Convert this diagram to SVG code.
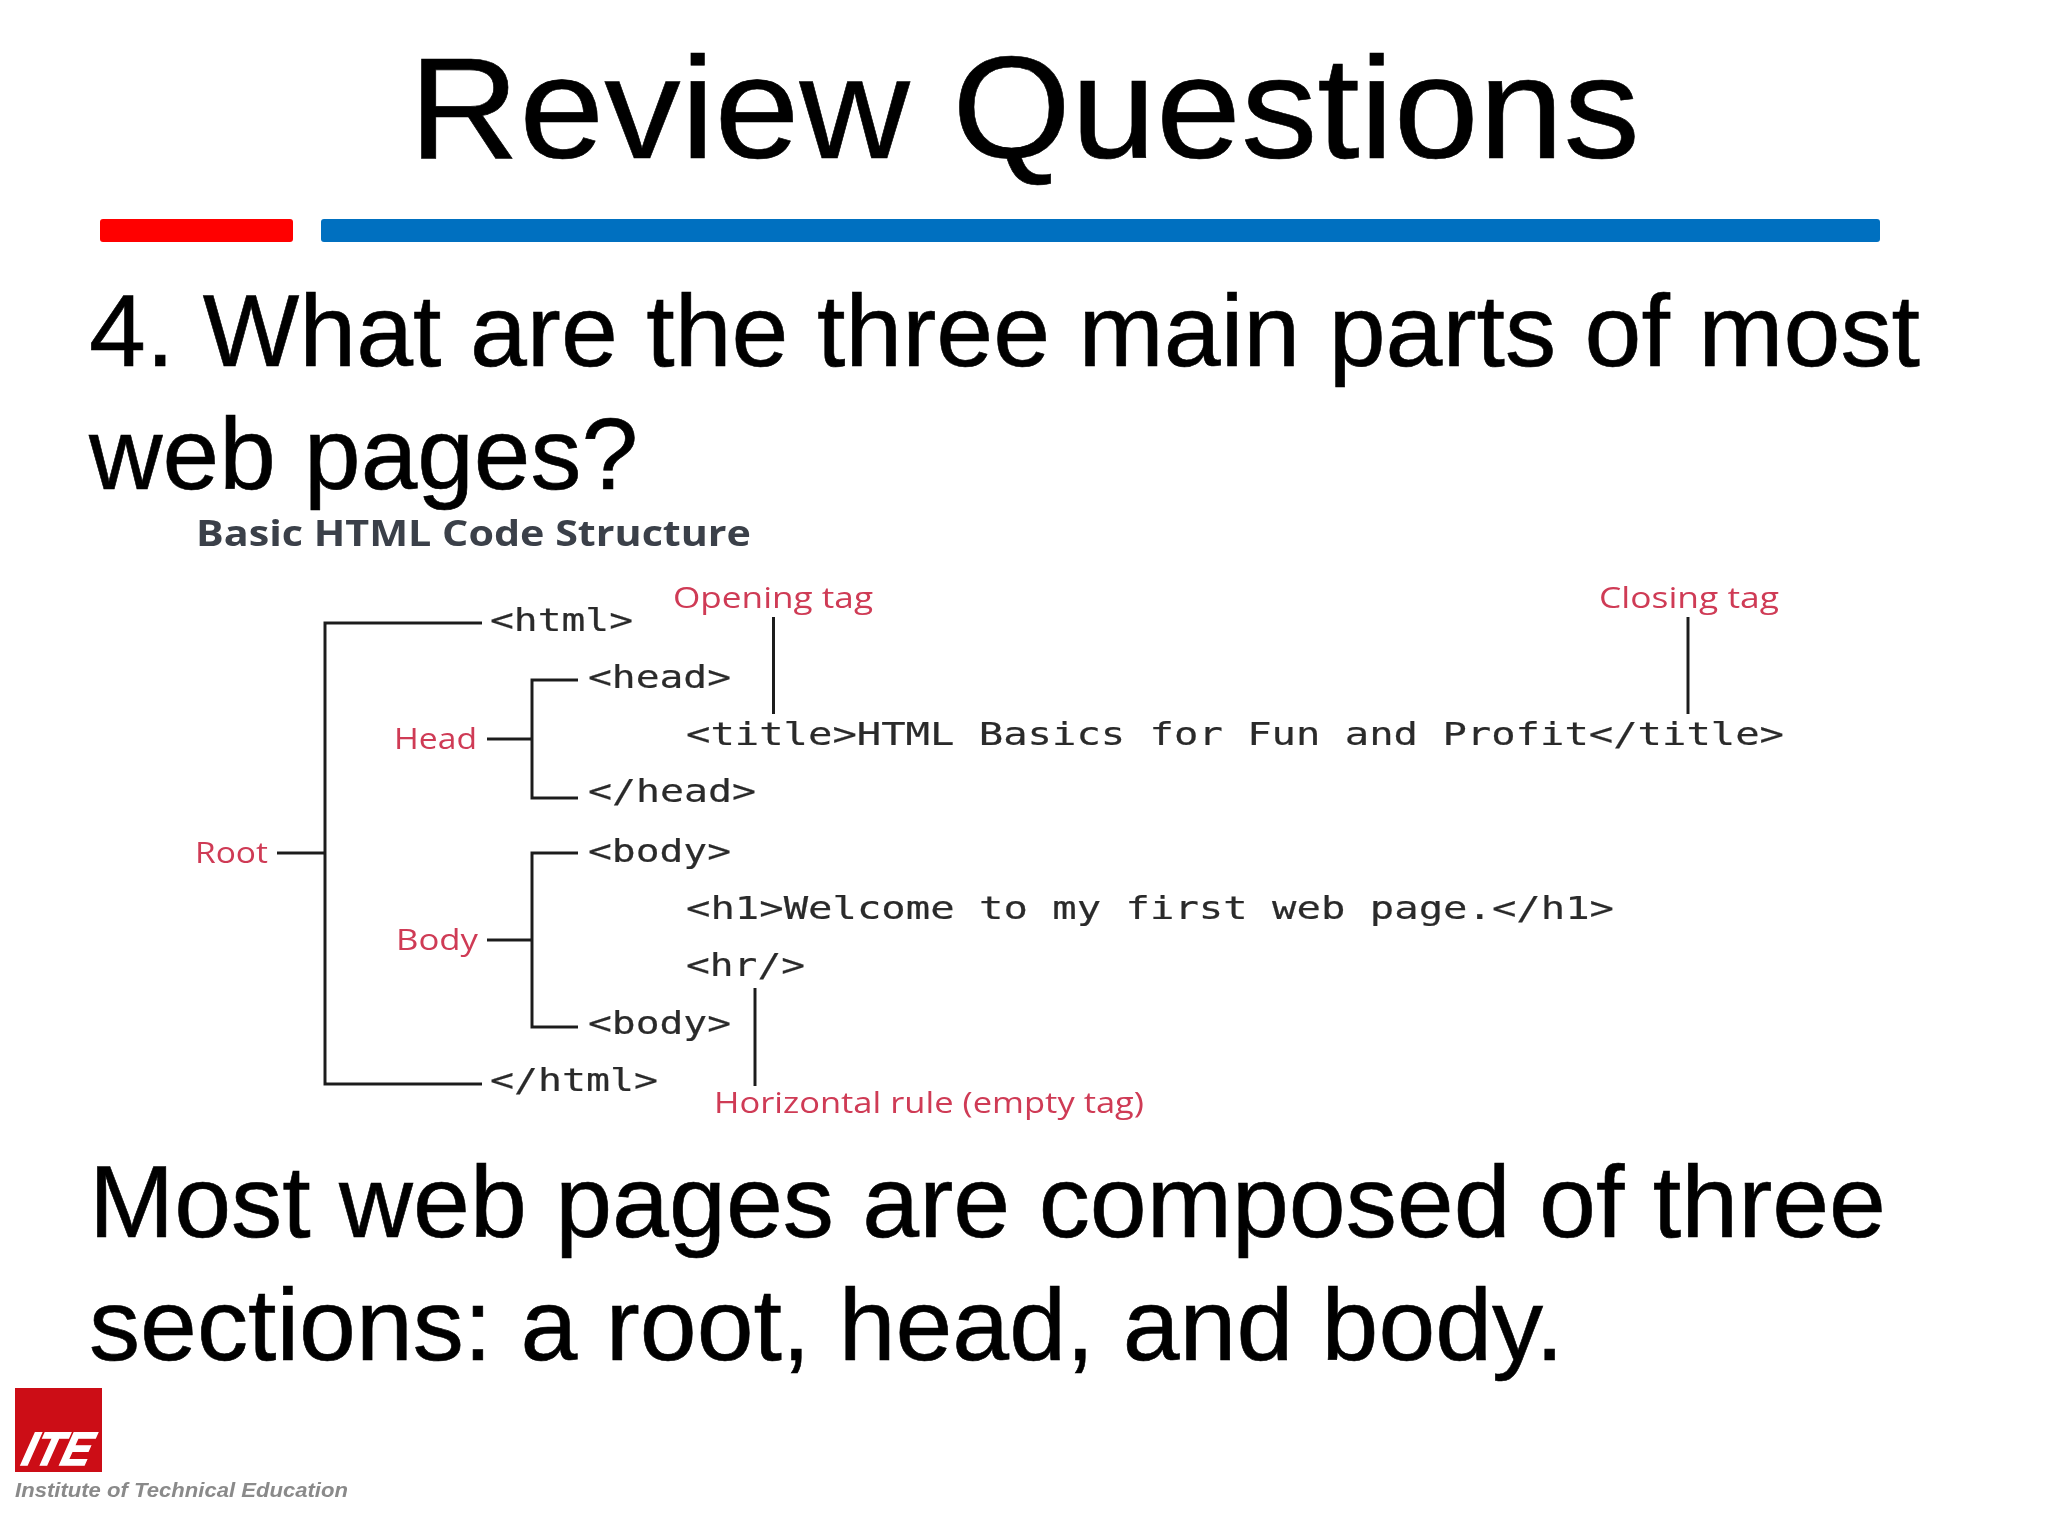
<svg xmlns="http://www.w3.org/2000/svg" width="2048" height="1536" viewBox="0 0 2048 1536">
<defs>
<style>
.slide{font-family:"Liberation Sans",Arial,sans-serif;fill:#000;stroke:#000;stroke-width:.6px}
.title{font-size:144px}
.body{font-size:102.400px}
.code{font-family:"DejaVu Sans Mono",monospace;font-size:32px;fill:#2a2a2a;stroke:#2a2a2a;stroke-width:.2px}
.red{font-family:"Open Sans",sans-serif;font-size:29px;fill:#cf3a55}
.conn{fill:none;stroke:#1e1e1e;stroke-width:3}
</style>
<filter id="soft" x="-5%" y="-5%" width="110%" height="110%"><feGaussianBlur stdDeviation="0.7"/></filter>
</defs>
<rect width="2048" height="1536" fill="#fff"/>
<g id="heading">
<text class="slide title" x="409" y="158" textLength="1231" lengthAdjust="spacingAndGlyphs">Review Questions</text>
<rect x="100" y="219" width="193" height="23" rx="3" fill="#ff0000"/>
<rect x="321" y="219" width="1559" height="23" rx="3" fill="#0070c0"/>
</g>
<g id="question">
<text class="slide body" x="89" y="366" textLength="1831" lengthAdjust="spacingAndGlyphs">4. What are the three main parts of most</text>
<text class="slide body" x="89" y="489" textLength="549" lengthAdjust="spacingAndGlyphs">web pages?</text>
</g>
<g id="answer">
<text class="slide body" x="89" y="1237" textLength="1797" lengthAdjust="spacingAndGlyphs">Most web pages are composed of three</text>
<text class="slide body" x="89" y="1360" textLength="1475" lengthAdjust="spacingAndGlyphs">sections: a root, head, and body.</text>
</g>
<g id="figure" filter="url(#soft)">
<text id="figure-title" x="196" y="546" font-family="Open Sans, sans-serif" font-weight="700" font-size="35" fill="#3a4048" textLength="555" lengthAdjust="spacingAndGlyphs">Basic HTML Code Structure</text>
<g id="connectors" class="conn">
<path d="M482 623H325V1084H482"/>
<path d="M277 853H325"/>
<path d="M578 680H532V798H578"/>
<path d="M487 739H532"/>
<path d="M578 853H532V1027H578"/>
<path d="M487 940H532"/>
<path d="M773.500 617V714"/>
<path d="M1688 617V714"/>
<path d="M755 988V1086"/>
</g>
<g id="code">
<text class="code" x="490" y="631" textLength="143" lengthAdjust="spacingAndGlyphs">&lt;html&gt;</text>
<text class="code" x="588" y="688" textLength="143" lengthAdjust="spacingAndGlyphs">&lt;head&gt;</text>
<text class="code" x="686" y="745" textLength="1098" lengthAdjust="spacingAndGlyphs">&lt;title&gt;HTML Basics for Fun and Profit&lt;/title&gt;</text>
<text class="code" x="588" y="802" textLength="168" lengthAdjust="spacingAndGlyphs">&lt;/head&gt;</text>
<text class="code" x="588" y="862" textLength="143" lengthAdjust="spacingAndGlyphs">&lt;body&gt;</text>
<text class="code" x="686" y="919" textLength="928" lengthAdjust="spacingAndGlyphs">&lt;h1&gt;Welcome to my first web page.&lt;/h1&gt;</text>
<text class="code" x="686" y="976" textLength="119" lengthAdjust="spacingAndGlyphs">&lt;hr/&gt;</text>
<text class="code" x="588" y="1034" textLength="143" lengthAdjust="spacingAndGlyphs">&lt;body&gt;</text>
<text class="code" x="490" y="1091" textLength="168" lengthAdjust="spacingAndGlyphs">&lt;/html&gt;</text>
</g>
<g id="label-root"><text class="red" x="195" y="863" textLength="73" lengthAdjust="spacingAndGlyphs">Root</text></g>
<g id="label-head"><text class="red" x="394" y="749" textLength="83" lengthAdjust="spacingAndGlyphs">Head</text></g>
<g id="label-body"><text class="red" x="396" y="950" textLength="82" lengthAdjust="spacingAndGlyphs">Body</text></g>
<g id="label-opening"><text class="red" x="673" y="608" textLength="200" lengthAdjust="spacingAndGlyphs">Opening tag</text></g>
<g id="label-closing"><text class="red" x="1599" y="608" textLength="180" lengthAdjust="spacingAndGlyphs">Closing tag</text></g>
<g id="label-rule"><text class="red" x="714" y="1113" textLength="430" lengthAdjust="spacingAndGlyphs">Horizontal rule (empty tag)</text></g>
</g>
<g id="logo" filter="url(#soft)">
<rect x="15" y="1388" width="87" height="84" fill="#cc0c14"/>
<text transform="translate(0 1465) skewX(-24)" x="18" y="0" font-family="Liberation Sans, sans-serif" font-weight="700" font-size="47" fill="#fff" stroke="#fff" stroke-width="1.500" textLength="68" lengthAdjust="spacingAndGlyphs">ITE</text>
<text x="15" y="1497" font-family="Liberation Sans, sans-serif" font-weight="700" font-style="italic" font-size="20" fill="#8a8a8a" textLength="333" lengthAdjust="spacingAndGlyphs">Institute of Technical Education</text>
</g>
</svg>
